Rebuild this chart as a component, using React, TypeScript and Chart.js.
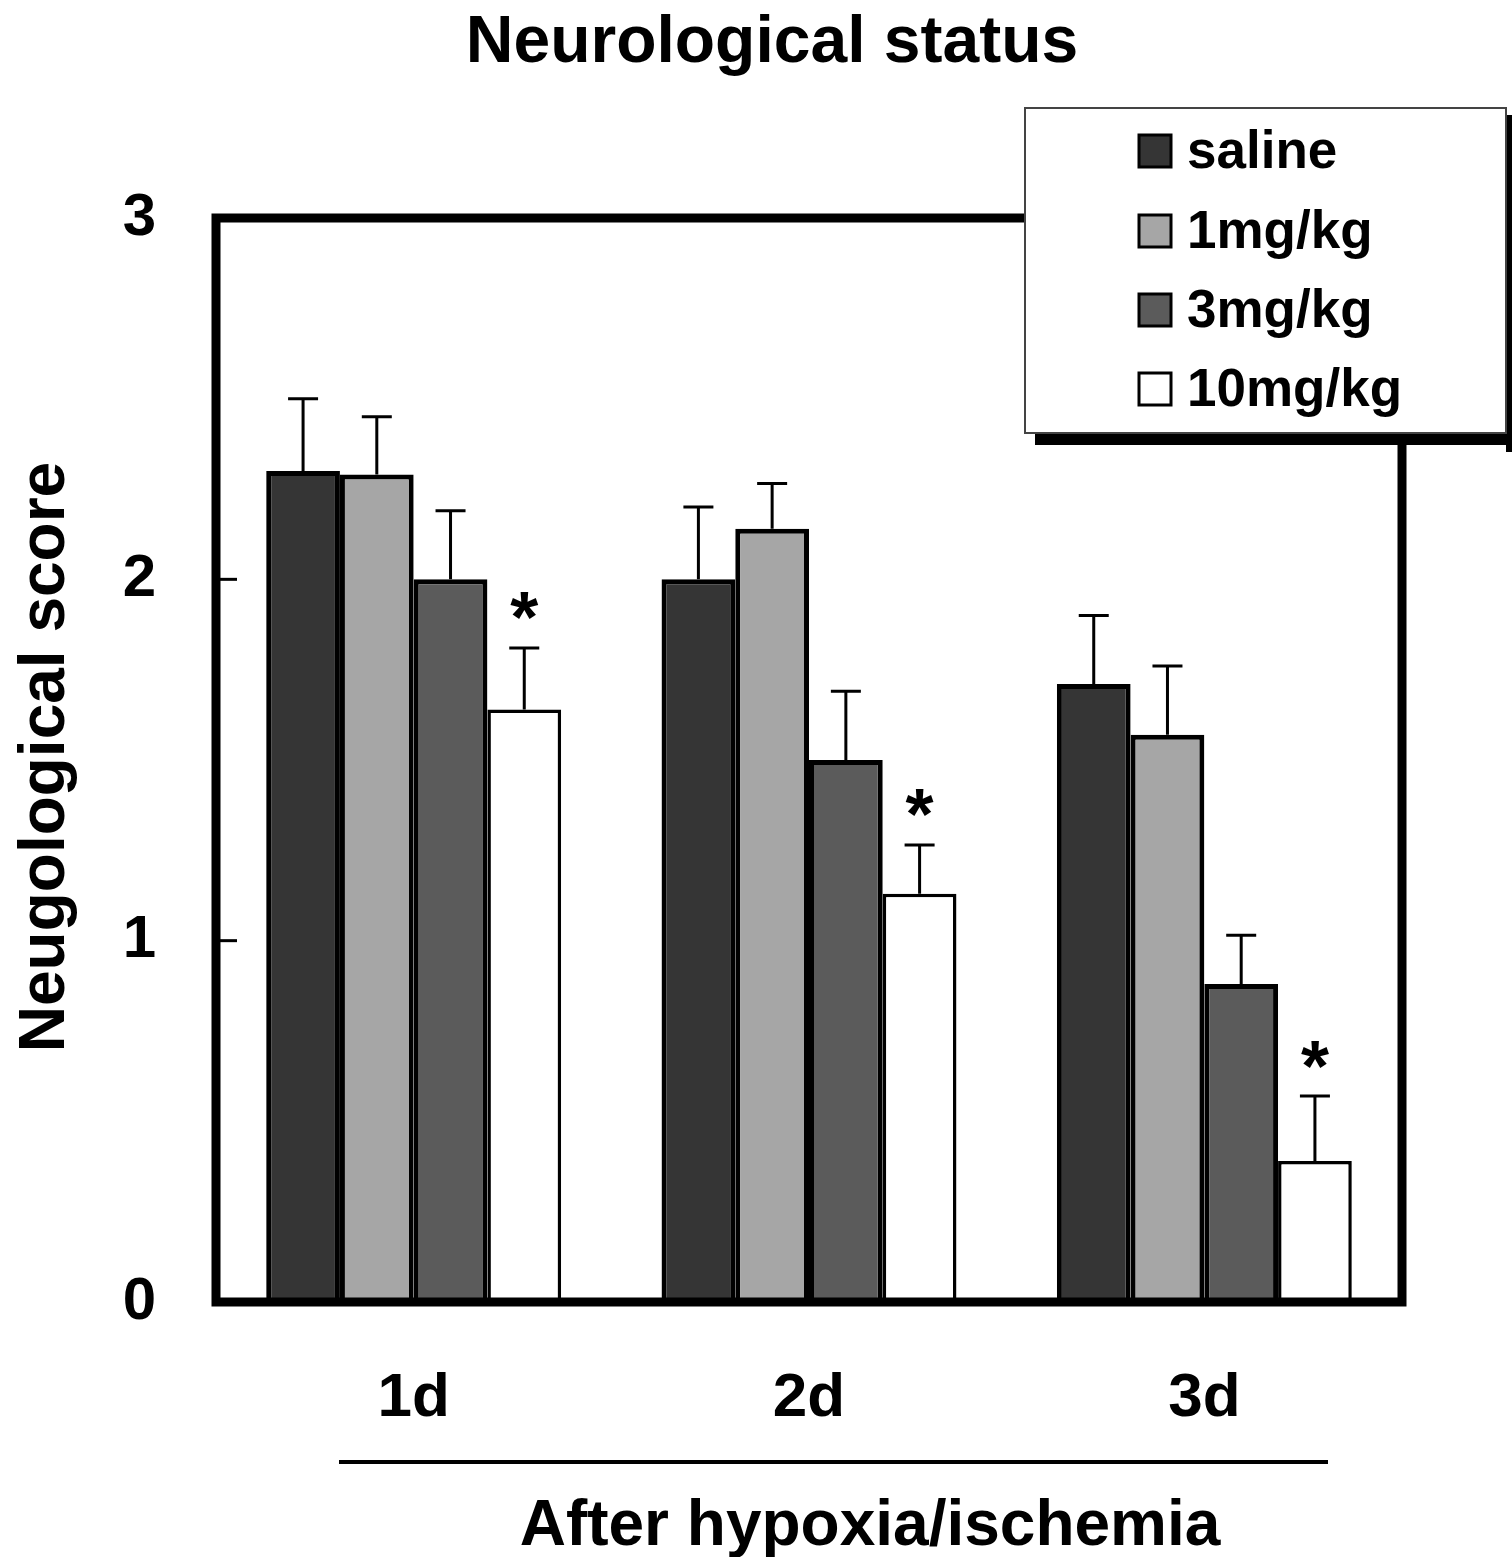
import React, { useEffect, useRef } from "react";
import { Chart, registerables } from "chart.js";

Chart.register(...registerables);

const categories = ["1d", "2d", "3d"];
const seriesNames = ["saline", "1mg/kg", "3mg/kg", "10mg/kg"];
const seriesColors = ["#353535", "#a6a6a6", "#5b5b5b", "#ffffff"];
const seriesBorderWidths = [5, 5, 5, 3.5];
const saline = [2.3, 2.0, 1.71];
const mg1 = [2.29, 2.14, 1.57];
const mg3 = [2.0, 1.5, 0.88];
const mg10 = [1.64, 1.13, 0.39];
const salineErr = [0.2, 0.2, 0.19];
const mg1Err = [0.16, 0.125, 0.19];
const mg3Err = [0.19, 0.19, 0.135];
const mg10Err = [0.17, 0.135, 0.18];
const mg10Significant = [true, true, true];
const yTickValues = [0, 1, 2, 3];

const titleText = "Neurological status";
const yTitleText = "Neugological score";
const xTitleText = "After hypoxia/ischemia";

const FONT = "'Liberation Sans', Arial, Helvetica, sans-serif";

const overlayPlugin = {
  id: "overlay",
  afterDatasetsDraw(chart: any) {
    const ctx = chart.ctx;
    const ca = chart.chartArea;
    const yScale = chart.scales.y;
    const errs = [salineErr, mg1Err, mg3Err, mg10Err];
    ctx.save();
    // error bars
    chart.data.datasets.forEach((ds: any, di: number) => {
      const meta = chart.getDatasetMeta(di);
      meta.data.forEach((el: any, j: number) => {
        const v = ds.data[j];
        const top = yScale.getPixelForValue(v + errs[di][j]);
        ctx.strokeStyle = "#000";
        ctx.lineWidth = 3;
        ctx.beginPath();
        ctx.moveTo(el.x, el.y);
        ctx.lineTo(el.x, top);
        ctx.moveTo(el.x - 15, top);
        ctx.lineTo(el.x + 15, top);
        ctx.stroke();
        if (di === 3 && mg10Significant[j]) {
          ctx.font = `bold 72px ${FONT}`;
          ctx.fillStyle = "#000";
          ctx.textAlign = "center";
          ctx.textBaseline = "alphabetic";
          const m = ctx.measureText("*");
          const cy = top - 42;
          ctx.fillText("*", el.x, cy + (m.actualBoundingBoxAscent - m.actualBoundingBoxDescent) / 2);
        }
      });
    });
    // frame
    ctx.strokeStyle = "#000";
    ctx.lineWidth = 9;
    ctx.strokeRect(ca.left, ca.top, ca.right - ca.left, ca.bottom - ca.top);
    // inward ticks
    ctx.lineWidth = 3;
    yTickValues.forEach((t) => {
      const py = yScale.getPixelForValue(t);
      ctx.beginPath();
      ctx.moveTo(ca.left, py);
      ctx.lineTo(ca.left + 21, py);
      ctx.stroke();
    });
    // legend box
    const lx = 1025, ly = 108, lw = 481, lh = 325;
    ctx.fillStyle = "#000";
    ctx.fillRect(lx + 10, ly + lh, 1512 - lx - 10, 12);
    ctx.fillRect(lx + lw, ly + 7, 1512 - lx - lw, lh + 12);
    ctx.fillStyle = "#fff";
    ctx.fillRect(lx, ly, lw, lh);
    ctx.strokeStyle = "#444";
    ctx.lineWidth = 2;
    ctx.strokeRect(lx, ly, lw, lh);
    const rows = [151, 231, 310, 389];
    chart.data.datasets.forEach((ds: any, di: number) => {
      const cy = rows[di];
      ctx.fillStyle = ds.backgroundColor;
      ctx.fillRect(1139, cy - 16, 32, 32);
      ctx.strokeStyle = "#000";
      ctx.lineWidth = 3;
      ctx.strokeRect(1139, cy - 16, 32, 32);
      ctx.fillStyle = "#000";
      ctx.font = `bold 53px ${FONT}`;
      ctx.textAlign = "left";
      ctx.textBaseline = "middle";
      ctx.fillText(ds.label, 1187, cy + 2);
    });
    ctx.restore();
  },
  afterDraw(chart: any) {
    const ctx = chart.ctx;
    ctx.save();
    ctx.fillStyle = "#000";
    ctx.textAlign = "center";
    ctx.textBaseline = "alphabetic";
    ctx.font = `bold 66px ${FONT}`;
    ctx.fillText(titleText, 772, 62);
    ctx.font = `bold 64px ${FONT}`;
    ctx.fillText(xTitleText, 870, 1545);
    // underline bracket
    ctx.strokeStyle = "#000";
    ctx.lineWidth = 4;
    ctx.beginPath();
    ctx.moveTo(339, 1462);
    ctx.lineTo(1328, 1462);
    ctx.stroke();
    // y title
    ctx.translate(64, 757);
    ctx.rotate(-Math.PI / 2);
    ctx.font = `bold 64px ${FONT}`;
    ctx.fillText(yTitleText, 0, 0);
    ctx.restore();
  },
};

export default function App() {
  const ref = useRef<HTMLCanvasElement | null>(null);
  useEffect(() => {
    if (!ref.current) return;
    const chart = new Chart(ref.current, {
      type: "bar",
      data: {
        labels: categories,
        datasets: [saline, mg1, mg3, mg10].map((d, i) => ({
          label: seriesNames[i],
          data: d,
          backgroundColor: seriesColors[i],
          borderColor: "#000",
          borderWidth: seriesBorderWidths[i],
          barPercentage: 1,
          categoryPercentage: 0.746,
        })),
      },
      options: {
        animation: false,
        responsive: false,
        maintainAspectRatio: false,
        layout: { padding: { top: 218, right: 110, left: 0, bottom: 0 } },
        plugins: {
          legend: { display: false },
          title: { display: false },
          tooltip: { enabled: false },
        },
        scales: {
          x: {
            grid: { display: false },
            border: { display: false },
            ticks: {
              color: "#000",
              font: { family: FONT, weight: "bold", size: 62 },
              padding: 52,
              maxRotation: 0,
            },
            afterFit: (s: any) => {
              s.height = 255;
            },
          },
          y: {
            min: 0,
            max: 3,
            grid: { display: false },
            border: { display: false },
            ticks: {
              stepSize: 1,
              color: "#000",
              font: { family: FONT, weight: "bold", size: 60 },
              padding: 52,
            },
            afterFit: (s: any) => {
              s.width = 216;
            },
          },
        },
      },
      plugins: [overlayPlugin],
    } as any);
    return () => chart.destroy();
  }, []);
  return (
    <div style={{ position: "absolute", left: 0, top: 0, width: 1512, height: 1557, background: "#fff" }}>
      <canvas ref={ref} width={1512} height={1557} />
    </div>
  );
}
